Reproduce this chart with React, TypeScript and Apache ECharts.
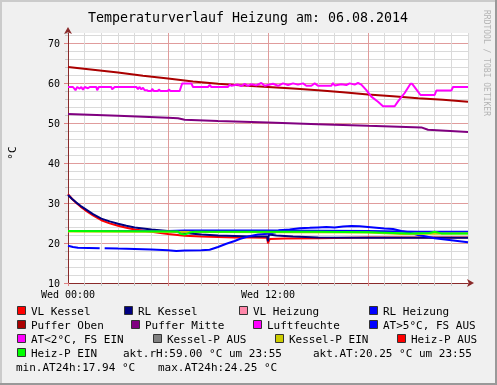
import React, { useEffect, useRef } from "react";
import * as echarts from "echarts";

// ---------- data (time in hours of 06.08.2014) ----------
const vlKesselT = [0, 0.25, 0.5, 0.75, 1.0, 1.5, 2.0, 2.5, 3.0, 3.5, 4.0, 5.0, 6.0, 7.0, 8.0, 9.0, 10.0, 11.0, 11.95, 12.0, 12.1, 13, 15, 18, 21, 24];
const vlKesselV = [32.2, 31.0, 30.0, 29.1, 28.3, 26.9, 25.7, 24.9, 24.3, 23.8, 23.4, 22.8, 22.25, 21.8, 21.6, 21.5, 21.4, 21.35, 21.3, 19.9, 21.0, 21.1, 21.2, 21.4, 21.4, 21.4];

const rlKesselT = [0, 0.25, 0.5, 0.75, 1.0, 1.5, 2.0, 2.5, 3.0, 3.5, 4.0, 5.0, 6.0, 7.0, 8.0, 9.0, 10.0, 11.0, 11.95, 12.0, 12.05, 12.5, 13.5, 15, 18, 21, 24];
const rlKesselV = [32.0, 31.0, 30.1, 29.3, 28.6, 27.2, 26.1, 25.4, 24.8, 24.3, 23.9, 23.35, 23.0, 22.5, 22.15, 21.9, 21.75, 21.6, 21.6, 20.4, 22.1, 21.9, 21.6, 21.4, 21.3, 21.3, 21.3];

const rlHeizungT = [0, 6, 7, 12, 18, 21, 24];
const rlHeizungV = [23.0, 23.0, 23.1, 23.1, 23.0, 22.8, 22.8];

const pufferObenT = [0, 1.5, 3, 4.5, 6, 7.5, 9, 10.5, 12, 13.5, 15, 16.5, 18, 19.5, 21, 22.5, 24];
const pufferObenV = [64.0, 63.3, 62.6, 61.8, 61.1, 60.4, 59.8, 59.4, 59.0, 58.6, 58.2, 57.7, 57.1, 56.7, 56.2, 55.8, 55.3];

const pufferMitteT = [0, 3, 6, 6.6, 7.0, 9, 10.5, 12, 15, 18, 21.2, 21.6, 24];
const pufferMitteV = [52.25, 51.8, 51.3, 51.2, 50.8, 50.5, 50.3, 50.1, 49.7, 49.3, 48.9, 48.3, 47.75];

const luftT = [0, 0.3, 0.45, 0.55, 0.7, 0.8, 0.9, 1.0, 1.2, 1.3, 1.7, 1.75, 1.85, 2.6, 2.65, 2.8, 4.1, 4.2, 4.3, 4.4, 4.5, 4.6, 4.75, 4.8, 5.0, 5.05, 5.15, 5.4, 5.45, 5.55, 6.0, 6.05, 6.15, 6.7, 6.85, 7.4, 7.5, 8.4, 8.5, 8.6, 9.6, 9.7, 9.8, 10.2, 10.4, 10.6, 10.8, 11.0, 11.3, 11.6, 11.8, 12.0, 12.3, 12.6, 12.9, 13.2, 13.5, 13.8, 14.1, 14.3, 14.6, 14.8, 15.0, 15.8, 15.9, 16.0, 16.4, 16.7, 16.9, 17.2, 17.4, 17.6, 17.9, 18.2, 18.6, 18.9, 19.6, 19.8, 20.2, 20.55, 20.65, 20.9, 21.15, 22.0, 22.1, 23.0, 23.1, 24];
const luftV = [59.0, 59.0, 58.2, 59.0, 58.6, 59.0, 58.3, 59.0, 58.7, 59.0, 59.0, 58.2, 59.0, 59.0, 58.4, 59.0, 59.0, 58.5, 59.0, 58.4, 58.8, 58.2, 58.2, 58.0, 58.0, 58.5, 58.0, 58.0, 58.4, 58.0, 58.0, 58.4, 58.0, 58.0, 59.9, 59.9, 59.0, 59.0, 59.5, 59.0, 59.0, 59.6, 59.3, 59.6, 59.2, 59.8, 59.3, 59.7, 59.4, 60.0, 59.3, 59.5, 59.8, 59.3, 59.9, 59.5, 59.9, 59.6, 59.9, 59.3, 59.3, 59.9, 59.3, 59.3, 60.0, 59.4, 59.7, 59.5, 59.9, 59.6, 60.0, 59.6, 58.2, 56.6, 55.3, 54.2, 54.2, 55.4, 57.5, 59.8, 59.8, 58.4, 57.0, 57.0, 58.1, 58.1, 59.0, 59.0];

const aussenT = [0, 0.3, 0.6, 1.9, 2.0, 2.2, 3, 4, 5, 6, 6.5, 7, 8, 8.5, 9.0, 9.5, 10.0, 10.3, 10.8, 11.4, 12, 12.4, 12.7, 13.3, 13.9, 14.5, 15, 15.5, 16, 16.5, 17.0, 17.5, 18.0, 18.5, 19, 19.5, 20.0, 20.5, 21.0, 21.5, 22.0, 23.0, 24.0];
const aussenV = [19.3, 19.0, 18.8, 18.7, null, 18.7, 18.6, 18.5, 18.4, 18.2, 18.0, 18.1, 18.2, 18.3, 19.0, 19.8, 20.5, 21.0, 21.6, 22.1, 22.3, 22.6, 23.2, 23.4, 23.7, 23.8, 23.9, 24.0, 23.9, 24.1, 24.25, 24.2, 24.0, 23.8, 23.6, 23.5, 23.0, 22.6, 22.0, 21.6, 21.2, 20.7, 20.2];

const kesselPEinT = [0, 18, 20, 22, 24];
const kesselPEinV = [22.9, 22.6, 22.25, 22.3, 22.4];

const heizPEinT = [0, 6.6, 6.75, 7.0, 7.3, 7.6, 12, 15, 18, 20.5, 21.7, 22.0, 22.4, 24];
const heizPEinV = [23.0, 22.9, 22.3, 22.1, 22.6, 22.8, 22.8, 22.8, 22.7, 22.4, 22.5, 22.8, 22.4, 22.4];

const emptyT: number[] = [];
const emptyV: number[] = [];

const seriesNames = ["VL Kessel", "RL Kessel", "VL Heizung", "RL Heizung", "Puffer Oben", "Puffer Mitte", "Luftfeuchte", "AT>5°C, FS AUS", "AT<2°C, FS EIN", "Kessel-P AUS", "Kessel-P EIN", "Heiz-P AUS", "Heiz-P EIN"];
const seriesTimes = [vlKesselT, rlKesselT, emptyT, rlHeizungT, pufferObenT, pufferMitteT, luftT, aussenT, emptyT, emptyT, kesselPEinT, emptyT, heizPEinT];
const seriesValues = [vlKesselV, rlKesselV, emptyV, rlHeizungV, pufferObenV, pufferMitteV, luftV, aussenV, emptyV, emptyV, kesselPEinV, emptyV, heizPEinV];

const yTicksMajor = [10, 20, 30, 40, 50, 60, 70];
const xTickLabels: Record<number, string> = { 0: "Wed 00:00", 12: "Wed 12:00" };

const title = "Temperaturverlauf Heizung am: 06.08.2014";
const unitLabel = "°C";
const watermark = "RRDTOOL / TOBI OETIKER";
const infoTexts = ["akt.rH:59.00 °C um 23:55", "akt.AT:20.25 °C um 23:55", "min.AT24h:17.94 °C", "max.AT24h:24.25 °C"];

// ---------- styles / layout ----------
const colors = ["#FF0000", "#000080", "#FF88AA", "#0000FF", "#AA0000", "#800080", "#FF00FF", "#0000FF", "#FF00FF", "#808080", "#CCCC00", "#FF0000", "#00FF00"];
// legend layout: [boxX, textX, rowY]
const legendLayout = [
  [17, 31, 311], [124, 138, 311], [239, 253, 311], [369, 383, 311],
  [17, 31, 325], [131, 145, 325], [253, 267, 325], [369, 383, 325],
  [17, 31, 339], [153, 167, 339], [275, 289, 339], [397, 411, 339],
  [17, 31, 353],
];
const infoLayout = [[123, 353], [313, 353], [16, 367], [158, 367]];

const FONT = "DejaVu Sans Mono";
const AXIS_COLOR = "#8a2a2a";

export default function App() {
  const ref = useRef<HTMLDivElement>(null);
  useEffect(() => {
    if (!ref.current) return;
    const chart = echarts.init(ref.current, null, { renderer: "svg" });

    const series = seriesNames.map((name, i) => ({
      name,
      type: "line",
      xAxisIndex: 1,
      yAxisIndex: 1,
      showSymbol: false,
      connectNulls: false,
      data: seriesTimes[i].map((t, j) => [t, seriesValues[i][j]]),
      lineStyle: { color: colors[i], width: 2 },
      itemStyle: { color: colors[i] },
      z: 3 + i * 0.01,
    }));

    const graphics: any[] = [
      { type: "rect", shape: { x: 0, y: 0, width: 497, height: 385 }, style: { fill: "#F0F0F0" }, z: -10, silent: true },
      { type: "rect", shape: { x: 0, y: 0, width: 497, height: 2 }, style: { fill: "#CBCBCB" }, z: -9 },
      { type: "rect", shape: { x: 0, y: 0, width: 2, height: 385 }, style: { fill: "#CBCBCB" }, z: -9 },
      { type: "rect", shape: { x: 0, y: 383, width: 497, height: 2 }, style: { fill: "#999999" }, z: -9 },
      { type: "rect", shape: { x: 495, y: 0, width: 2, height: 385 }, style: { fill: "#999999" }, z: -9 },
      {
        type: "text", x: 248, y: 17,
        style: { text: title, font: `13.3px "${FONT}"`, fill: "#000", align: "center", verticalAlign: "middle" },
      },
      {
        type: "text", x: 12, y: 153, rotation: Math.PI / 2,
        style: { text: unitLabel, font: `11px "${FONT}"`, fill: "#000", align: "center", verticalAlign: "middle" },
      },
      {
        type: "text", x: 486, y: 63, rotation: -Math.PI / 2,
        style: { text: watermark, font: `8px "${FONT}"`, fill: "#B4B4B4", align: "center", verticalAlign: "middle" },
      },
    ];

    seriesNames.forEach((name, i) => {
      const [bx, tx, ry] = legendLayout[i];
      graphics.push({
        type: "rect",
        shape: { x: bx + 0.5, y: ry - 4.5, width: 8, height: 8 },
        style: { fill: colors[i], stroke: "#333", lineWidth: 1 },
      });
      graphics.push({
        type: "text", x: tx, y: ry,
        style: { text: name, font: `11px "${FONT}"`, fill: "#000", align: "left", verticalAlign: "middle" },
      });
    });
    infoTexts.forEach((t, i) => {
      const [tx, ry] = infoLayout[i];
      graphics.push({
        type: "text", x: tx, y: ry,
        style: { text: t, font: `11px "${FONT}"`, fill: "#000", align: "left", verticalAlign: "middle" },
      });
    });

    chart.setOption({
      animation: false,
      grid: { left: 68, top: 33, width: 400, height: 250, backgroundColor: "#FFFFFF", show: true, borderWidth: 0 },
      xAxis: [
        {
          type: "value", min: 0, max: 24, interval: 1, position: "bottom",
          axisLine: { show: false },
          axisTick: { show: true, length: 3, lineStyle: { color: "#C8C8C8" } },
          axisLabel: { show: false },
          splitLine: { show: true, lineStyle: { color: "#DADADA", width: 1 } },
        },
        {
          type: "value", min: 0, max: 24, interval: 6, position: "bottom",
          axisLine: {
            show: true, onZero: false,
            lineStyle: { color: AXIS_COLOR, width: 1 },
            symbol: ["none", "arrow"], symbolSize: [6, 7], symbolOffset: [0, 6],
          },
          axisTick: { show: true, length: 3, lineStyle: { color: "#E08080" } },
          axisLabel: {
            show: true, margin: 6, color: "#000", fontFamily: FONT, fontSize: 10,
            formatter: (v: number) => xTickLabels[v] ?? "",
          },
          splitLine: { show: true, showMinLine: false, showMaxLine: false, lineStyle: { color: "rgba(230,80,80,0.45)", width: 1 } },
        },
      ],
      yAxis: [
        {
          type: "value", min: 10, max: 72.5, interval: 2,
          axisLine: { show: false },
          axisTick: { show: true, length: 3, lineStyle: { color: "#C8C8C8" } },
          axisLabel: { show: false },
          splitLine: { show: true, showMaxLine: false, lineStyle: { color: "#DADADA", width: 1 } },
        },
        {
          type: "value", min: 10, max: 72.5, interval: 10, position: "left",
          axisLine: {
            show: true, onZero: false,
            lineStyle: { color: AXIS_COLOR, width: 1 },
            symbol: ["none", "arrow"], symbolSize: [6, 7], symbolOffset: [0, 6],
          },
          axisTick: { show: true, length: 4, lineStyle: { color: "#E08080" } },
          axisLabel: {
            show: true, margin: 8, color: "#000", fontFamily: FONT, fontSize: 10,
            showMaxLabel: false,
            formatter: (v: number) => (yTicksMajor.includes(v) ? String(v) : ""),
          },
          splitLine: { show: true, showMinLine: false, showMaxLine: false, lineStyle: { color: "rgba(230,80,80,0.45)", width: 1 } },
        },
      ],
      graphic: graphics,
      series,
    });
    return () => chart.dispose();
  }, []);
  return <div ref={ref} style={{ position: "fixed", left: 0, top: 0, width: 497, height: 385 }} />;
}
